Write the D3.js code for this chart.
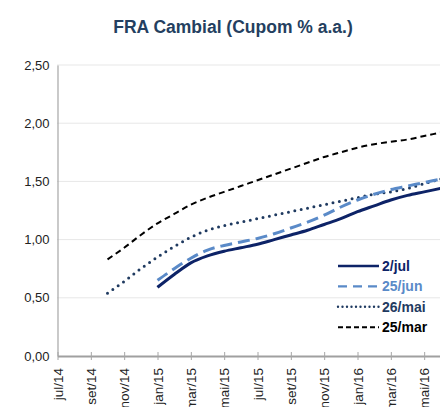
<!DOCTYPE html>
<html>
<head>
<meta charset="utf-8">
<title>FRA Cambial</title>
<style>
body { margin: 0; background: #fff; }
text { font-family: "Liberation Sans", Arial, sans-serif; }
</style>
</head>
<body>
<svg width="440" height="407"></svg>
<script src="https://cdn.jsdelivr.net/npm/d3@7"></script>
<script>

// month index 0 = jul/14
var tickLabels = ["jul/14", "set/14", "nov/14", "jan/15", "mar/15", "mai/15",
                  "jul/15", "set/15", "nov/15", "jan/16", "mar/16", "mai/16"];

// 2/jul, from jan/15 (index 6) to jun/16
var jul2 = [0.59, 0.70, 0.80, 0.86, 0.90, 0.93, 0.96, 1.00, 1.04, 1.08, 1.13, 1.18,
            1.24, 1.29, 1.34, 1.38, 1.41, 1.44];
// 25/jun, from jan/15
var jun25 = [0.65, 0.75, 0.84, 0.91, 0.95, 0.98, 1.01, 1.05, 1.10, 1.15, 1.21, 1.28,
             1.34, 1.39, 1.43, 1.46, 1.49, 1.52];
// 26/mai, from out/14 (index 3)
var mai26 = [0.54, 0.64, 0.75, 0.85, 0.94, 1.02, 1.08, 1.12, 1.15, 1.18, 1.21, 1.24,
             1.27, 1.30, 1.33, 1.36, 1.39, 1.41, 1.44, 1.48, 1.52];
// 25/mar, from out/14
var mar25 = [0.83, 0.93, 1.04, 1.14, 1.22, 1.30, 1.36, 1.41, 1.46, 1.51, 1.56, 1.61,
             1.66, 1.71, 1.75, 1.79, 1.82, 1.84, 1.86, 1.89, 1.92];

var yTicks = [0, 0.5, 1, 1.5, 2, 2.5];

var series = [
  {name: "2/jul",  start: 6, values: jul2,  color: "#0d2367", width: 3,   dash: null,   cap: "butt"},
  {name: "25/jun", start: 6, values: jun25, color: "#5a8ac8", width: 3,   dash: "12,6", cap: "butt"},
  {name: "26/mai", start: 3, values: mai26, color: "#1f3a60", width: 3,   dash: "0,6.5", cap: "round"},
  {name: "25/mar", start: 3, values: mar25, color: "#000000", width: 2,   dash: "6,4",  cap: "butt"}
];

var svg = d3.select("svg");
var fmt = function(d) { return d3.format(".2f")(d).replace(".", ","); };

var x = d3.scaleLinear().domain([0, 24]).range([57.5, 457.5]);
var y = d3.scaleLinear().domain([0, 2.5]).range([356, 65]);

svg.append("text")
    .attr("x", 233).attr("y", 33)
    .attr("text-anchor", "middle")
    .style("font-size", "17.5px").style("font-weight", "bold")
    .style("fill", "#243f60")
    .text("FRA Cambial (Cupom % a.a.)");

// grid
svg.append("g").selectAll("line")
  .data(yTicks.slice(1))
  .enter().append("line")
    .attr("x1", x(0)).attr("x2", 440)
    .attr("y1", function(d) { return y(d); })
    .attr("y2", function(d) { return y(d); })
    .style("stroke", "#cfcfcf").style("stroke-width", 1)
    .style("stroke-dasharray", "1,1");

// y axis
var yAxis = svg.append("g")
    .attr("transform", "translate(" + x(0) + ",0)")
    .call(d3.axisLeft(y).tickValues(yTicks).tickFormat(fmt).tickSize(0).tickPadding(8));
yAxis.select(".domain").style("stroke", "#a6a6a6").style("stroke-width", 1.2);
yAxis.selectAll("text").style("font-size", "13px").style("fill", "#222")
    .style("font-family", "'Liberation Sans', Arial, sans-serif");

// x axis
var xAxis = svg.append("g")
    .attr("transform", "translate(0," + y(0) + ")")
    .call(d3.axisBottom(x)
      .tickValues(d3.range(0, 24, 2))
      .tickFormat(function(d) { return tickLabels[d / 2]; })
      .tickSize(4).tickSizeOuter(0));
xAxis.select(".domain").style("stroke", "#a0a0a0").style("stroke-width", 2.2);
xAxis.selectAll(".tick line").attr("y1", -4).attr("y2", 4).style("stroke", "#a6a6a6");
xAxis.selectAll("text")
    .attr("transform", "rotate(-90)")
    .attr("x", -12).attr("y", 0).attr("dy", "0.35em")
    .attr("text-anchor", "end")
    .style("font-size", "13.5px").style("fill", "#222")
    .style("font-family", "'Liberation Sans', Arial, sans-serif");

// lines
var line = d3.line()
    .x(function(d) { return x(d.m); })
    .y(function(d) { return y(d.v); })
    .curve(d3.curveMonotoneX);

svg.append("defs").append("clipPath").attr("id", "plot")
  .append("rect").attr("x", 0).attr("y", 0).attr("width", 440).attr("height", 407);

svg.append("g").attr("clip-path", "url(#plot)")
  .selectAll("path")
  .data(series.slice().reverse())
  .enter().append("path")
    .attr("d", function(s) {
      return line(s.values.map(function(v, i) { return {m: s.start + i, v: v}; }));
    })
    .style("fill", "none")
    .style("stroke", function(s) { return s.color; })
    .style("stroke-width", function(s) { return s.width; })
    .style("stroke-dasharray", function(s) { return s.dash; })
    .style("stroke-linecap", function(s) { return s.cap; });

// legend
var legend = svg.append("g").selectAll("g")
  .data(series)
  .enter().append("g")
    .attr("transform", function(d, i) { return "translate(338," + (266 + i * 20.4) + ")"; });

legend.append("line")
    .attr("x1", 0).attr("x2", 41)
    .style("stroke", function(s) { return s.color; })
    .style("stroke-width", function(s) { return s.name == "25/mar" ? 2 : 2.4; })
    .style("stroke-dasharray", function(s) { return s.name == "26/mai" ? "0,4.5" : (s.name == "25/mar" ? "5,3" : s.dash ? "9,6" : null); })
    .style("stroke-linecap", function(s) { return s.cap; });

legend.append("text")
    .attr("x", 44).attr("dy", "0.35em")
    .style("font-size", "14px").style("font-weight", "bold")
    .style("fill", function(s) { return s.color; })
    .text(function(s) { return s.name; });

</script>
</body>
</html>
